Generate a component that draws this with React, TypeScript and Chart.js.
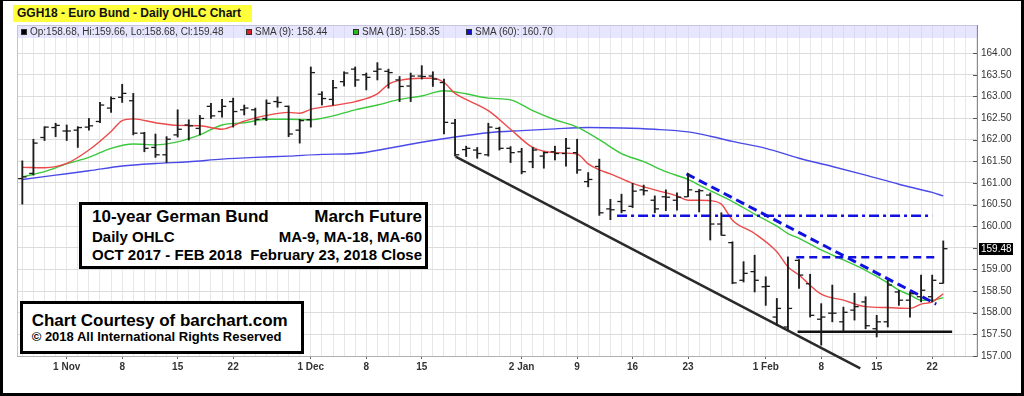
import React, { useEffect, useRef } from "react";
import { Chart, registerables } from "chart.js";
Chart.register(...registerables);

const FONT = '"Liberation Sans", Arial, sans-serif';

// Trading days (Eurex calendar)
const dates = [
  "2017-10-26","2017-10-27","2017-10-30","2017-10-31",
  "2017-11-01","2017-11-02","2017-11-03","2017-11-06","2017-11-07","2017-11-08","2017-11-09","2017-11-10",
  "2017-11-13","2017-11-14","2017-11-15","2017-11-16","2017-11-17","2017-11-20","2017-11-21","2017-11-22",
  "2017-11-23","2017-11-24","2017-11-27","2017-11-28","2017-11-29","2017-11-30",
  "2017-12-01","2017-12-04","2017-12-05","2017-12-06","2017-12-07","2017-12-08","2017-12-11","2017-12-12",
  "2017-12-13","2017-12-14","2017-12-15","2017-12-18","2017-12-19","2017-12-20","2017-12-21","2017-12-22",
  "2017-12-27","2017-12-28","2017-12-29",
  "2018-01-02","2018-01-03","2018-01-04","2018-01-05","2018-01-08","2018-01-09","2018-01-10","2018-01-11",
  "2018-01-12","2018-01-15","2018-01-16","2018-01-17","2018-01-18","2018-01-19","2018-01-22","2018-01-23",
  "2018-01-24","2018-01-25","2018-01-26","2018-01-29","2018-01-30","2018-01-31",
  "2018-02-01","2018-02-02","2018-02-05","2018-02-06","2018-02-07","2018-02-08","2018-02-09","2018-02-12",
  "2018-02-13","2018-02-14","2018-02-15","2018-02-16","2018-02-19","2018-02-20","2018-02-21","2018-02-22",
  "2018-02-23",
];

const opens = [161.10,161.22,162.05,162.28,162.20,162.22,162.29,162.42,162.73,162.98,
162.90,162.15,161.82,161.65,162.11,162.34,162.26,162.77,162.65,162.88,
162.69,162.69,162.49,162.88,162.77,162.22,162.46,163.05,162.93,163.34,
163.63,163.50,163.58,163.58,163.38,163.24,163.47,163.47,163.32,162.38,
161.77,161.76,161.65,162.26,161.80,161.72,161.49,161.62,161.72,161.68,
161.70,161.03,161.38,160.40,160.57,160.46,160.84,160.60,160.68,160.60,
160.68,160.80,160.72,160.05,159.62,158.75,158.95,158.60,157.90,157.67,
159.21,158.67,157.85,157.99,157.79,158.06,158.25,157.63,157.79,158.48,
158.29,158.37,158.37,158.68];

const highs = [161.51,162.01,162.30,162.38,162.34,162.30,162.49,162.86,162.99,163.28,
163.07,162.17,162.13,162.07,162.69,162.46,162.56,162.84,162.93,162.96,
162.80,162.73,162.92,162.99,162.78,162.47,163.68,163.11,163.37,163.57,
163.68,163.54,163.78,163.63,163.46,163.54,163.71,163.57,163.40,162.47,
161.85,161.82,162.38,162.29,161.84,161.80,161.82,161.72,161.85,162.03,
162.01,161.24,161.55,160.62,160.74,160.99,160.95,160.70,160.84,160.77,
161.22,160.85,160.77,160.31,159.64,159.18,159.33,158.83,158.33,159.29,
159.23,158.89,158.21,158.64,158.13,158.45,158.37,157.94,158.75,158.52,
158.48,158.87,158.87,159.66];

const lows = [160.51,161.18,161.98,162.07,161.98,161.82,162.22,162.39,162.63,162.86,
162.11,161.72,161.59,161.47,162.06,161.99,162.11,162.49,162.52,162.29,
162.57,162.34,162.44,162.75,162.07,161.92,162.29,162.80,162.80,163.24,
163.23,163.15,163.38,163.19,162.88,162.88,163.40,163.23,162.13,161.62,
161.61,161.57,161.62,161.76,161.47,161.21,161.35,161.34,161.53,161.39,
161.22,160.91,160.25,160.15,160.31,160.43,160.72,160.31,160.36,160.37,
160.68,160.33,159.68,159.79,158.67,158.71,158.48,158.17,157.71,157.60,
158.56,157.90,157.25,157.79,157.56,157.83,157.63,157.44,157.67,158.17,
157.90,158.25,158.25,158.68];

const closes = [161.14,161.92,162.29,162.33,162.20,162.28,162.32,162.80,162.95,163.07,
162.15,161.80,161.65,162.01,162.24,162.32,162.49,162.55,162.77,162.65,
162.73,162.47,162.84,162.86,162.13,162.44,163.55,162.95,163.20,163.54,
163.38,163.44,163.63,163.55,163.23,163.47,163.46,163.40,162.40,161.65,
161.80,161.68,162.29,161.80,161.70,161.26,161.76,161.70,161.68,161.80,
161.30,161.08,160.31,160.38,160.36,160.81,160.82,160.40,160.67,160.67,
160.84,160.82,160.05,159.79,158.69,158.91,158.75,158.61,158.10,158.10,
158.87,157.94,157.90,157.99,158.01,158.14,157.70,157.79,158.64,158.29,
158.44,158.52,158.75,159.48];

const sma9Idx = [0,2,4,6,8,9,10,12,14,16,18,20,22,24,25,26,28,30,32,33,34,36,37,38,39,40,42,44,46,48,50,51,52,53,55,57,59,60,61,62,63,64,66,68,69,70,72,74,76,78,80,81,82,83];
const sma9Vals = [161.36,161.35,161.45,161.76,162.19,162.44,162.48,162.39,162.33,162.32,162.24,162.43,162.56,162.63,162.61,162.70,162.79,162.88,163.06,163.28,163.37,163.42,163.42,163.32,163.07,162.93,162.67,162.24,161.82,161.70,161.67,161.44,161.30,161.21,160.99,160.84,160.70,160.60,160.60,160.59,160.51,160.14,159.83,159.41,159.06,158.87,158.43,158.29,158.14,158.12,158.10,158.20,158.25,158.44];

const sma18Idx = [0,2,4,6,8,10,12,14,16,18,20,22,24,26,28,30,32,34,36,38,40,42,44,46,48,50,52,54,56,58,60,61,62,64,66,68,69,70,72,74,76,78,79,80,81,82,83];
const sma18Vals = [161.14,161.26,161.44,161.59,161.80,161.90,161.88,161.95,162.11,162.34,162.39,162.47,162.47,162.46,162.55,162.69,162.80,162.93,163.01,163.13,163.06,162.96,162.92,162.67,162.46,162.29,162.00,161.68,161.49,161.26,161.08,160.95,160.82,160.57,160.28,160.00,159.83,159.72,159.45,159.22,158.98,158.69,158.52,158.41,158.29,158.29,158.35];

const sma60Idx = [0,3,6,9,12,15,18,21,24,27,30,33,36,39,42,45,48,51,54,57,60,62,64,67,70,73,76,79,82,83];
const sma60Vals = [161.08,161.18,161.28,161.39,161.45,161.49,161.55,161.59,161.62,161.66,161.68,161.80,161.94,162.06,162.16,162.21,162.25,162.28,162.27,162.24,162.18,162.08,161.96,161.80,161.57,161.38,161.18,160.97,160.78,160.70];

// Hand-drawn trend lines (bar index, price)
const channelX = [39.05, 75.52];
const channelY = [161.61, 156.715];
const downTrendX = [59.86, 82.37];
const downTrendY = [161.21, 158.2];
const resistX = [53.6, 82.0];
const resistY = [160.24, 160.24];
const breakoutX = [69.75, 82.3];
const breakoutY = [159.28, 159.28];
const supportX = [69.87, 83.8];
const supportY = [157.56, 157.56];

// Axis labels
const xTickDates = ["2017-11-01","2017-11-08","2017-11-15","2017-11-22","2017-12-01","2017-12-08","2017-12-15","2018-01-02","2018-01-09","2018-01-16","2018-01-23","2018-02-01","2018-02-08","2018-02-15","2018-02-22"];
const xTickLabels = ["1 Nov","8","15","22","1 Dec","8","15","2 Jan","9","16","23","1 Feb","8","15","22"];
const yTicks = [157,157.5,158,158.5,159,159.5,160,160.5,161,161.5,162,162.5,163,163.5,164];

const X_MIN = -0.48;
const X_MAX = 86.04;
const Y_MIN = 157;
const Y_MAX = 164.65;
const TICK_OFFSET = 0.2;

const labelAt: Record<number, string> = {};
xTickDates.forEach((d, k) => {
  labelAt[dates.indexOf(d)] = xTickLabels[k];
});
const gridIdx: number[] = [];
for (let i = 0; i <= Math.floor(X_MAX); i++) gridIdx.push(i);

const seg = (xs: number[], ys: number[]) => xs.map((x, k) => ({ x, y: ys[k] }));

const chartDecor = {
  id: "chartDecor",
  beforeDatasetsDraw(chart: any) {
    const { ctx, chartArea } = chart;
    ctx.save();
    ctx.strokeStyle = "#c4c4c4";
    ctx.lineWidth = 1;
    ctx.beginPath();
    ctx.moveTo(chartArea.left + 0.5, chartArea.bottom);
    ctx.lineTo(chartArea.left + 0.5, chartArea.top + 0.5);
    ctx.lineTo(chartArea.right, chartArea.top + 0.5);
    ctx.stroke();
    const y = chart.scales.y;
    ctx.strokeStyle = "#555";
    y.ticks.forEach((t: any) => {
      const py = Math.round(y.getPixelForValue(t.value)) + 0.5;
      ctx.beginPath();
      ctx.moveTo(chartArea.right - 4, py);
      ctx.lineTo(chartArea.right, py);
      ctx.stroke();
    });
    ctx.restore();
  },
  afterDraw(chart: any) {
    const { ctx, chartArea } = chart;
    const y = chart.scales.y;
    const last = closes[closes.length - 1];
    const py = y.getPixelForValue(last);
    ctx.save();
    ctx.fillStyle = "#000";
    ctx.fillRect(chartArea.right + 2, Math.round(py) - 6, 34, 12);
    ctx.fillStyle = "#fff";
    ctx.font = `10px ${FONT}`;
    ctx.textBaseline = "middle";
    ctx.textAlign = "left";
    ctx.fillText(last.toFixed(2), chartArea.right + 4, Math.round(py) + 0.5);
    ctx.restore();
  },
};

export default function App() {
  const ref = useRef<HTMLCanvasElement>(null);
  useEffect(() => {
    const bar = "#1c1c1c";
    const blue = "#1010e0";
    const chart = new Chart(ref.current as HTMLCanvasElement, {
      type: "bar",
      data: {
        datasets: [
          {
            type: "bar",
            label: "High-Low",
            data: dates.map((_, i) => ({ x: i, y: [lows[i], highs[i]] })) as any,
            backgroundColor: bar,
            borderWidth: 0,
            barThickness: 1.2,
            grouped: false,
            order: 0,
          } as any,
          {
            type: "line",
            label: "Open",
            data: opens.map((v, i) => ({ x: i - TICK_OFFSET, y: v })),
            showLine: false,
            pointStyle: "line",
            pointRadius: 2,
            pointBorderWidth: 1.3,
            pointBorderColor: bar,
            borderColor: bar,
            order: 0,
          } as any,
          {
            type: "line",
            label: "Close",
            data: closes.map((v, i) => ({ x: i + TICK_OFFSET, y: v })),
            showLine: false,
            pointStyle: "line",
            pointRadius: 2,
            pointBorderWidth: 1.3,
            pointBorderColor: bar,
            borderColor: bar,
            order: 0,
          } as any,
          {
            type: "line",
            label: "Channel",
            data: seg(channelX, channelY),
            borderColor: "#2a2a2a",
            borderWidth: 2.5,
            pointRadius: 0,
            clip: false,
            order: 1,
          } as any,
          {
            type: "line",
            label: "Down trend",
            data: seg(downTrendX, downTrendY),
            borderColor: blue,
            borderWidth: 3,
            borderDash: [9, 5],
            pointRadius: 0,
            order: 1,
          } as any,
          {
            type: "line",
            label: "Resistance",
            data: seg(resistX, resistY),
            borderColor: blue,
            borderWidth: 2.5,
            borderDash: [10, 4, 3, 4],
            pointRadius: 0,
            order: 1,
          } as any,
          {
            type: "line",
            label: "Breakout",
            data: seg(breakoutX, breakoutY),
            borderColor: blue,
            borderWidth: 2.5,
            borderDash: [8, 5],
            pointRadius: 0,
            order: 1,
          } as any,
          {
            type: "line",
            label: "Support",
            data: seg(supportX, supportY),
            borderColor: "#111",
            borderWidth: 2.5,
            pointRadius: 0,
            order: 1,
          } as any,
          {
            type: "line",
            label: "SMA (9)",
            data: seg(sma9Idx, sma9Vals),
            borderColor: "#ec4a4a",
            borderWidth: 1.4,
            pointRadius: 0,
            cubicInterpolationMode: "monotone",
            order: 2,
          } as any,
          {
            type: "line",
            label: "SMA (18)",
            data: seg(sma18Idx, sma18Vals),
            borderColor: "#3cc83c",
            borderWidth: 1.4,
            pointRadius: 0,
            cubicInterpolationMode: "monotone",
            order: 2,
          } as any,
          {
            type: "line",
            label: "SMA (60)",
            data: seg(sma60Idx, sma60Vals),
            borderColor: "#4a4ae8",
            borderWidth: 1.4,
            pointRadius: 0,
            cubicInterpolationMode: "monotone",
            order: 2,
          } as any,
        ],
      },
      options: {
        responsive: false,
        animation: false,
        events: [],
        layout: { padding: { left: 17, top: 25, right: 0, bottom: 0 } },
        plugins: { legend: { display: false }, tooltip: { enabled: false } },
        scales: {
          x: {
            type: "linear",
            min: X_MIN,
            max: X_MAX,
            offset: false,
            afterBuildTicks: (s: any) => {
              s.ticks = gridIdx.map((v) => ({ value: v }));
            },
            afterFit: (s: any) => {
              s.height = 40;
            },
            ticks: {
              autoSkip: false,
              maxRotation: 0,
              minRotation: 0,
              padding: 2,
              color: "#333",
              font: { family: FONT, size: 10, weight: "bold" },
              callback: (v: any) => labelAt[v as number] ?? "",
            },
            grid: {
              offset: false,
              color: "#e8e8e8",
              lineWidth: 1,
              tickLength: 3,
              tickColor: (c: any) => (labelAt[c.tick?.value] ? "#666" : "rgba(0,0,0,0)"),
            },
            border: { display: true, color: "#b0b0b0" },
          } as any,
          y: {
            type: "linear",
            position: "right",
            min: Y_MIN,
            max: Y_MAX,
            afterBuildTicks: (s: any) => {
              s.ticks = yTicks.map((v) => ({ value: v }));
            },
            afterFit: (s: any) => {
              s.width = 47;
            },
            ticks: {
              padding: 4,
              color: "#333",
              font: { family: FONT, size: 10 },
              callback: (v: any) => Number(v).toFixed(2),
            },
            grid: { color: "#dcdcdc", lineWidth: 1, drawTicks: false },
            border: { display: true, color: "#8a8a8a" },
          } as any,
        },
      },
      plugins: [chartDecor],
    } as any);
    return () => chart.destroy();
  }, []);

  const legendItems = [
    { color: "#000", text: "Op:158.68, Hi:159.66, Lo:158.68, Cl:159.48", x: 21 },
    { color: "#e02020", text: "SMA (9): 158.44", x: 246 },
    { color: "#20c020", text: "SMA (18): 158.35", x: 353 },
    { color: "#1010d0", text: "SMA (60): 160.70", x: 466 },
  ];

  const abs = (o: React.CSSProperties): React.CSSProperties => ({ position: "absolute", ...o });

  return (
    <div
      style={{
        position: "fixed",
        left: 0,
        top: 0,
        width: 1024,
        height: 396,
        background: "#fff",
        overflow: "hidden",
        fontFamily: FONT,
      }}
    >
      <canvas ref={ref} width={1024} height={396} style={abs({ left: 0, top: 0, display: "block" })} />

      {/* title */}
      <div
        style={abs({
          left: 13,
          top: 5,
          width: 239,
          height: 17,
          background: "#ffff3c",
          fontWeight: "bold",
          fontSize: 12,
          lineHeight: "17px",
          paddingLeft: 4,
          boxSizing: "border-box",
          color: "#111",
          whiteSpace: "nowrap",
        })}
      >
        GGH18 - Euro Bund - Daily OHLC Chart
      </div>

      {/* legend band */}
      <div style={abs({ left: 17, top: 25, width: 960, height: 13, background: "rgba(200,200,255,0.45)" })} />
      {legendItems.map((it) => (
        <React.Fragment key={it.text}>
          <div style={abs({ left: it.x, top: 29, width: 6, height: 6, background: it.color, border: "1px solid #333", boxSizing: "border-box" })} />
          <div style={abs({ left: it.x + 9, top: 25, height: 13, lineHeight: "13px", fontSize: 10, color: "#333", whiteSpace: "nowrap" })}>
            {it.text}
          </div>
        </React.Fragment>
      ))}

      {/* info box */}
      <div
        style={abs({
          left: 79,
          top: 202,
          width: 349,
          height: 67,
          border: "3px solid #000",
          background: "#fff",
          boxSizing: "border-box",
          fontWeight: "bold",
          color: "#000",
        })}
      >
        <div style={abs({ left: 10, right: 3, top: 3.4, display: "flex", justifyContent: "space-between", fontSize: 17, lineHeight: "17px", whiteSpace: "nowrap" })}>
          <span>10-year German Bund</span>
          <span>March Future</span>
        </div>
        <div style={abs({ left: 10, right: 3, top: 24.3, display: "flex", justifyContent: "space-between", fontSize: 15, lineHeight: "15px", whiteSpace: "nowrap" })}>
          <span>Daily OHLC</span>
          <span>MA-9, MA-18, MA-60</span>
        </div>
        <div style={abs({ left: 10, right: 3, top: 41.6, display: "flex", justifyContent: "space-between", fontSize: 15, lineHeight: "15px", whiteSpace: "nowrap" })}>
          <span>OCT 2017 - FEB 2018</span>
          <span>February 23, 2018 Close</span>
        </div>
      </div>

      {/* courtesy box */}
      <div
        style={abs({
          left: 20,
          top: 301,
          width: 284,
          height: 53,
          border: "3px solid #000",
          background: "#fff",
          boxSizing: "border-box",
          fontWeight: "bold",
          color: "#000",
        })}
      >
        <div style={abs({ left: 8.7, top: 7.7, fontSize: 17, lineHeight: "17px", whiteSpace: "nowrap" })}>
          Chart Courtesy of barchart.com
        </div>
        <div style={abs({ left: 8.7, top: 26.3, fontSize: 13, lineHeight: "13px", whiteSpace: "nowrap" })}>
          © 2018 All International Rights Reserved
        </div>
      </div>

      {/* outer frame */}
      <div
        style={abs({
          left: 0,
          top: 0,
          width: 1024,
          height: 396,
          boxSizing: "border-box",
          borderStyle: "solid",
          borderColor: "#000",
          borderWidth: "1px 3px 3px 3px",
          pointerEvents: "none",
        })}
      />
    </div>
  );
}
